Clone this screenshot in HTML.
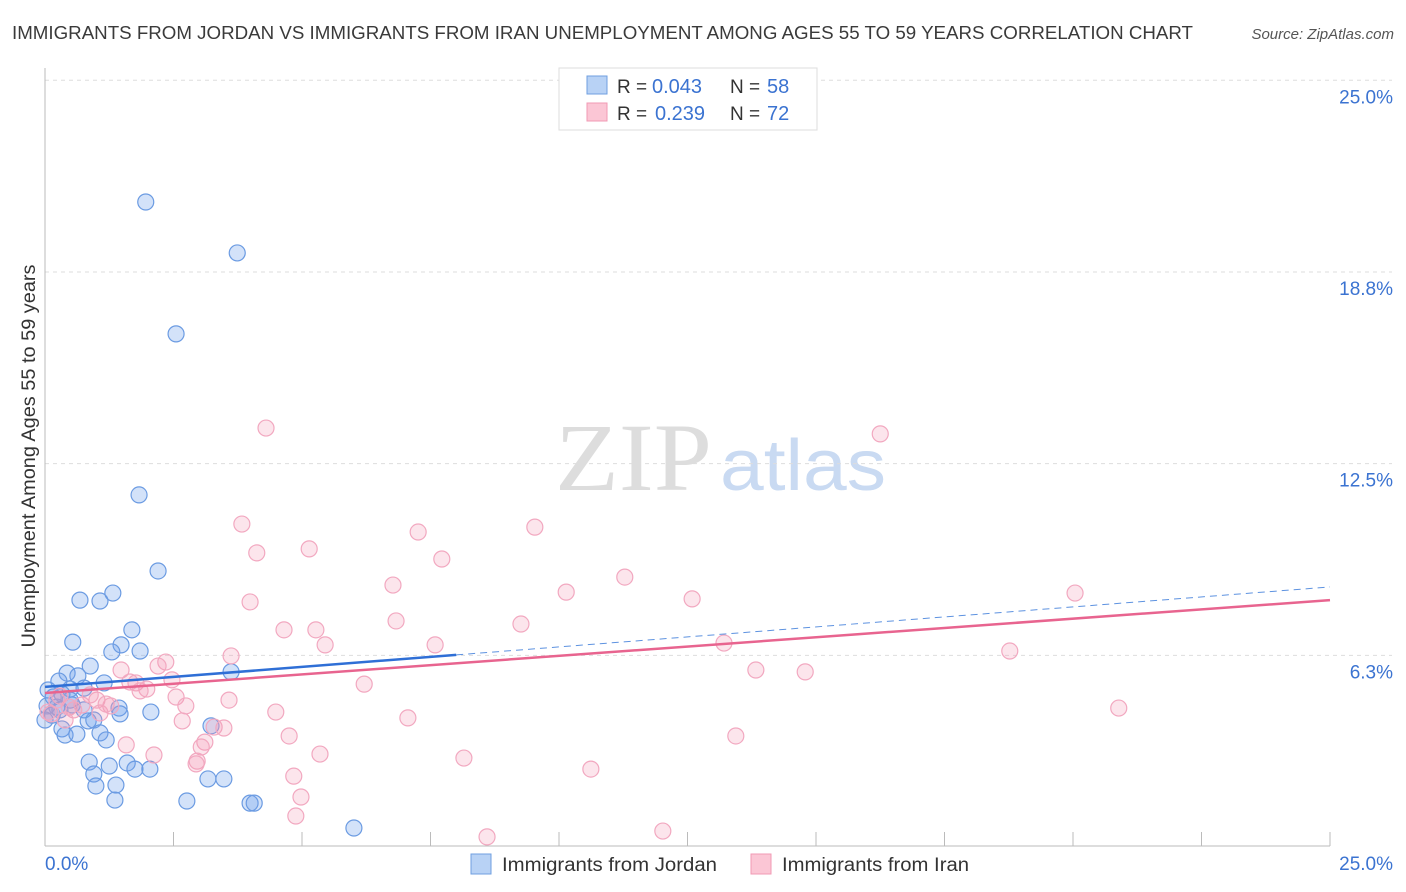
<!DOCTYPE html>
<html><head><meta charset="utf-8"><style>
body{margin:0;background:#fff;font-family:"Liberation Sans",sans-serif;}
svg{display:block}
</style></head><body>
<svg id="chart" width="1406" height="892" xmlns="http://www.w3.org/2000/svg" font-family="Liberation Sans, sans-serif">
<text x="12" y="39" font-size="18" fill="#3a3a3a" textLength="1181" lengthAdjust="spacingAndGlyphs">IMMIGRANTS FROM JORDAN VS IMMIGRANTS FROM IRAN UNEMPLOYMENT AMONG AGES 55 TO 59 YEARS CORRELATION CHART</text>
<text x="1394" y="39" font-size="15" fill="#555" text-anchor="end" font-style="italic">Source: ZipAtlas.com</text>
<g>
<text x="555" y="490" font-size="96" fill="#ddd" font-family="Liberation Serif, serif" textLength="157" lengthAdjust="spacingAndGlyphs">ZIP</text>
<text x="720" y="490" font-size="72" fill="#c9daf2" textLength="166" lengthAdjust="spacingAndGlyphs">atlas</text>
</g>
<g id="grid"></g>
<g id="axes"></g>
<g id="marks"></g>
<text transform="translate(35,456) rotate(-90)" font-size="19" fill="#333" text-anchor="middle" textLength="383" lengthAdjust="spacingAndGlyphs">Unemployment Among Ages 55 to 59 years</text>
<g>
<rect x="559" y="68" width="258" height="62" fill="#fff" stroke="#ddd"/>
<rect x="587" y="76" width="20" height="18" fill="#b8d2f5" stroke="#6f9fe0"/>
<rect x="587" y="103" width="20" height="18" fill="#fbc6d5" stroke="#f09ab4"/>
<text x="617" y="93" font-size="19" fill="#333">R =</text>
<text x="652" y="93" font-size="20" fill="#3b73d1">0.043</text>
<text x="730" y="93" font-size="19" fill="#333">N =</text>
<text x="767" y="93" font-size="20" fill="#3b73d1">58</text>
<text x="617" y="120" font-size="19" fill="#333">R =</text>
<text x="655" y="120" font-size="20" fill="#3b73d1">0.239</text>
<text x="730" y="120" font-size="19" fill="#333">N =</text>
<text x="767" y="120" font-size="20" fill="#3b73d1">72</text>
</g>
<g>
<rect x="471" y="854" width="20" height="20" fill="#b8d2f5" stroke="#6f9fe0"/>
<text x="502" y="871" font-size="19" fill="#333" textLength="215" lengthAdjust="spacingAndGlyphs">Immigrants from Jordan</text>
<rect x="751" y="854" width="20" height="20" fill="#fbc6d5" stroke="#f09ab4"/>
<text x="782" y="871" font-size="19" fill="#333" textLength="187" lengthAdjust="spacingAndGlyphs">Immigrants from Iran</text>
</g>
</svg>
<script>
const yTicks=[25,18.75,12.5,6.25];
const yTickLabels=["25.0%","18.8%","12.5%","6.3%"];
const xTickLabels=["0.0%","25.0%"];
const jordanX=[1.96,3.74,2.55,1.83,2.20,0.68,1.07,1.32,0.54,1.69,1.48,1.30,1.85,0.88,0.43,0.64,1.15,0.27,0.06,0.49,0.76,0.16,0.23,0.04,0.29,0.14,1.44,1.46,2.06,3.23,3.62,0.33,0.39,0.62,0.84,0.95,1.07,1.19,0.86,1.25,1.60,1.75,2.04,0.95,0.99,1.38,1.36,2.76,3.17,3.48,3.99,4.07,6.01,0.00,0.53,0.33,0.49,0.76];
const jordanY=[21.03,19.37,16.73,11.48,9.00,8.05,8.02,8.28,6.68,7.08,6.59,6.36,6.39,5.90,5.67,5.58,5.35,5.41,5.12,5.15,5.18,4.89,4.56,4.60,4.47,4.30,4.53,4.34,4.40,3.95,5.71,3.85,3.65,3.68,4.11,4.14,3.72,3.49,2.77,2.64,2.74,2.54,2.54,2.38,1.99,2.02,1.53,1.50,2.22,2.22,1.43,1.43,0.62,4.14,4.63,4.99,4.79,4.47];
const iranX=[4.30,16.25,3.83,9.53,7.26,7.72,4.12,5.14,6.77,10.14,11.28,12.59,20.04,3.99,4.65,5.27,6.83,9.26,5.45,7.59,13.21,3.62,18.77,2.35,2.20,1.48,13.83,14.79,6.21,1.77,1.65,2.47,1.98,1.85,2.55,3.58,2.74,20.89,1.01,0.72,0.23,0.47,0.56,1.28,1.07,0.12,2.67,4.49,7.06,3.29,3.48,4.75,1.58,2.12,5.35,3.11,3.04,2.96,2.94,13.44,8.15,4.84,10.62,4.98,4.88,8.60,12.02,0.29,0.06,0.88,1.19,0.39];
const iranY=[13.66,13.47,10.53,10.43,10.27,9.39,9.59,9.72,8.54,8.31,8.80,8.09,8.28,7.99,7.08,7.08,7.37,7.27,6.59,6.59,6.65,6.23,6.39,6.03,5.90,5.77,5.77,5.71,5.31,5.35,5.38,5.45,5.15,5.09,4.89,4.79,4.60,4.53,4.79,4.63,4.79,4.56,4.47,4.60,4.37,4.34,4.11,4.40,4.21,3.91,3.88,3.62,3.33,3.00,3.03,3.42,3.26,2.80,2.71,3.62,2.90,2.31,2.54,1.63,1.01,0.33,0.52,4.92,4.40,4.96,4.66,4.14];
const jordanTrend=[5.22,8.48];
const iranTrend=[5.02,8.05];
const NS="http://www.w3.org/2000/svg";
const X=v=>45+v*51.4, Y=v=>847-v*30.67;
function mk(tag,attrs,parent){const e=document.createElementNS(NS,tag);for(const k in attrs)e.setAttribute(k,attrs[k]);parent.appendChild(e);return e;}
const grid=document.getElementById('grid'),axes=document.getElementById('axes'),marks=document.getElementById('marks');
yTicks.forEach((t,i)=>{
 const l=mk('line',{x1:45,x2:1392,y1:Y(t),y2:Y(t),stroke:'#ddd','stroke-dasharray':'4,4'},grid);
 
 
 const tx=mk('text',{x:1393,y:Y(t)+23,'font-size':19,fill:'#3b73d1','text-anchor':'end'},axes);
 tx.textContent=yTickLabels[i];
 
 
});
const ya=mk('line',{x1:45,x2:45,y1:68,y2:846,stroke:'#bbb'},axes);


const xa=mk('line',{x1:45,x2:1330,y1:846,y2:846,stroke:'#bbb'},axes);


for(let i=1;i<=10;i++){const t=mk('line',{x1:X(i*2.5),x2:X(i*2.5),y1:832,y2:846,stroke:'#bbb'},axes);
 
 }
[[0,'start',45],[25,'end',1393]].forEach((d,i)=>{const t=mk('text',{x:d[2],y:870,'font-size':19,fill:'#3b73d1','text-anchor':d[1]},axes);t.textContent=xTickLabels[i];
 
 });
function dots(xs,ys,fill,stroke,name){xs.forEach((x,i)=>{const c=mk('circle',{cx:X(x),cy:Y(ys[i]),r:8,fill:fill,stroke:stroke,'stroke-width':1.2},marks);
 
 });}
dots(jordanX,jordanY,'rgba(110,160,235,0.3)','#6b9be2','jordan-point');
dots(iranX,iranY,'rgba(245,150,180,0.25)','#f2a8c0','iran-point');
const ty=t=>jordanTrend[0]+(jordanTrend[1]-jordanTrend[0])*t/25;
const jd=mk('line',{x1:X(8),y1:Y(ty(8)),x2:X(25),y2:Y(ty(25)),stroke:'#5d92e0','stroke-width':1,'stroke-dasharray':'7,5'},marks);


const ir=mk('line',{x1:X(0),y1:Y(iranTrend[0]),x2:X(25),y2:Y(iranTrend[1]),stroke:'#e8648f','stroke-width':2.5},marks);


const js=mk('line',{x1:X(0),y1:Y(ty(0)),x2:X(8),y2:Y(ty(8)),stroke:'#2f6fd6','stroke-width':2.5},marks);


</script>
</body></html>
